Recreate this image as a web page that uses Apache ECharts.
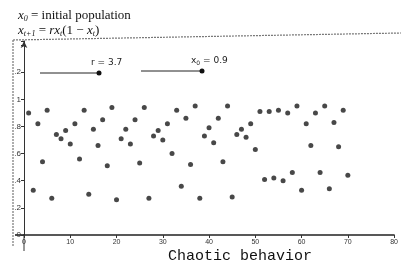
<!DOCTYPE html>
<html>
<head>
<meta charset="utf-8">
<script src="https://cdn.jsdelivr.net/npm/echarts@6/dist/echarts.min.js"></script>
<style>
  html, body { margin: 0; padding: 0; background: #fff; }
  #chaos { width: 401px; height: 264px; }
</style>
</head>
<body>
<div id="chaos"></div>
<script>
// logistic map iterations (r = 3.7, x0 = 0.9)
var steps = [1, 2, 3, 4, 5, 6, 7, 8, 9, 10, 11, 12, 13, 14, 15, 16, 17, 18, 19, 20,
    21, 22, 23, 24, 25, 26, 27, 28, 29, 30, 31, 32, 33, 34, 35, 36, 37, 38, 39, 40,
    41, 42, 43, 44, 45, 46, 47, 48, 49, 50, 51, 52, 53, 54, 55, 56, 57, 58, 59, 60,
    61, 62, 63, 64, 65, 66, 67, 68, 69, 70];
var population = [0.90, 0.33, 0.82, 0.54, 0.92, 0.27, 0.74, 0.71, 0.77, 0.67,
    0.82, 0.56, 0.92, 0.30, 0.78, 0.66, 0.85, 0.51, 0.94, 0.26,
    0.71, 0.78, 0.67, 0.85, 0.53, 0.94, 0.27, 0.73, 0.77, 0.70,
    0.82, 0.60, 0.92, 0.36, 0.86, 0.52, 0.95, 0.27, 0.73, 0.79,
    0.68, 0.86, 0.54, 0.95, 0.28, 0.74, 0.78, 0.72, 0.82, 0.63,
    0.91, 0.41, 0.91, 0.42, 0.92, 0.40, 0.90, 0.46, 0.95, 0.33,
    0.82, 0.66, 0.90, 0.46, 0.95, 0.34, 0.83, 0.65, 0.92, 0.44];
var xTickLabels = ['0', '10', '20', '30', '40', '50', '60', '70', '80'];
var yTickLabels = ['0', '.2', '.4', '.6', '.8', '1', '.2'];

function Chaos() {
    var points = [];
    for (var i = 0; i < steps.length; i++) {
        points.push([steps[i], population[i]]);
    }

    var serif = { fontFamily: 'Liberation Serif', fontWeight: 'normal', color: '#111' };

    var option = {
        backgroundColor: '#fff',
        animation: false,
        title: [{
            text: '{x|x}{s|0}{n| = initial population}\n{x|x}{s|t+1}{n| = }{x|rx}{s|t}{n|(1 − }{x|x}{s|t}{n|)}',
            left: 13,
            top: 3,
            textStyle: {
                fontFamily: 'Liberation Serif',
                fontWeight: 'normal',
                fontSize: 13,
                color: '#111',
                lineHeight: 15,
                rich: {
                    n: Object.assign({ fontSize: 13, lineHeight: 15 }, serif),
                    x: Object.assign({ fontStyle: 'italic', fontSize: 13, lineHeight: 15 }, serif),
                    s: Object.assign({ fontStyle: 'italic', fontSize: 8, lineHeight: 13, verticalAlign: 'bottom' }, serif)
                }
            }
        }, {
            text: 'Chaotic behavior',
            left: 163,
            top: 244,
            textStyle: {
                fontFamily: 'Liberation Mono',
                fontSize: 15,
                fontWeight: 'normal',
                color: '#111'
            }
        }],
        grid: {
            left: 24,
            right: 5,
            top: 41,
            bottom: 29
        },
        xAxis: {
            type: 'value',
            min: 0,
            max: 80,
            interval: 10,
            splitLine: { show: false },
            axisLine: { lineStyle: { color: '#222', width: 1.6 } },
            axisTick: { show: true, length: 3, lineStyle: { color: '#333' } },
            axisLabel: {
                fontSize: 7,
                color: '#333',
                margin: 4,
                formatter: function (v) {
                    return xTickLabels[Math.round(v / 10)];
                }
            }
        },
        yAxis: {
            type: 'value',
            min: 0,
            max: 1.43,
            interval: 0.2,
            splitLine: { show: false },
            axisLine: {
                show: true,
                symbol: ['none', 'arrow'],
                symbolSize: [5, 7],
                lineStyle: { color: '#333', width: 1 }
            },
            axisTick: { show: true, length: 3, lineStyle: { color: '#333' } },
            axisLabel: {
                fontSize: 8,
                color: '#333',
                margin: 3,
                formatter: function (v) {
                    var k = Math.round(v / 0.2);
                    return k < yTickLabels.length ? yTickLabels[k] : '';
                }
            }
        },
        graphic: [
            // scanned frame
            { type: 'line', shape: { x1: 13, y1: 40, x2: 401, y2: 33 }, style: { stroke: '#777', lineWidth: 1.2, lineDash: [2, 1] } },
            { type: 'line', shape: { x1: 13, y1: 40, x2: 13, y2: 246 }, style: { stroke: '#777', lineWidth: 1.2, lineDash: [2, 1] } },
            // axis extensions
            { type: 'line', shape: { x1: 15, y1: 235, x2: 24, y2: 235 }, style: { stroke: '#222', lineWidth: 1.6 } },
            { type: 'line', shape: { x1: 24, y1: 235, x2: 24, y2: 251 }, style: { stroke: '#333', lineWidth: 1 } },
            // slider r
            { type: 'line', shape: { x1: 40, y1: 73, x2: 99, y2: 73 }, style: { stroke: '#222', lineWidth: 1 } },
            { type: 'circle', shape: { cx: 99, cy: 73, r: 2.5 }, style: { fill: '#111' } },
            { type: 'text', x: 91, y: 58, style: { text: 'r = 3.7', font: '9px "DejaVu Sans"', fill: '#222' } },
            // slider x0
            { type: 'line', shape: { x1: 141, y1: 71, x2: 202, y2: 71 }, style: { stroke: '#222', lineWidth: 1 } },
            { type: 'circle', shape: { cx: 202, cy: 71, r: 2.5 }, style: { fill: '#111' } },
            {
                type: 'text', x: 191, y: 55,
                style: {
                    text: '{a|x}{b|0}{a| = 0.9}',
                    rich: {
                        a: { font: '9px "DejaVu Sans"', fill: '#222', lineHeight: 11 },
                        b: { font: '6px "DejaVu Sans"', fill: '#222', lineHeight: 9, verticalAlign: 'bottom' }
                    }
                }
            }
        ],
        series: [{
            type: 'scatter',
            data: points,
            symbol: 'circle',
            symbolSize: 5,
            itemStyle: { color: '#1a1a1a' }
        }]
    };
    var myChart = echarts.init(document.querySelector('#chaos'));
    myChart.setOption(option);
}

Chaos();
</script>
</body>
</html>
